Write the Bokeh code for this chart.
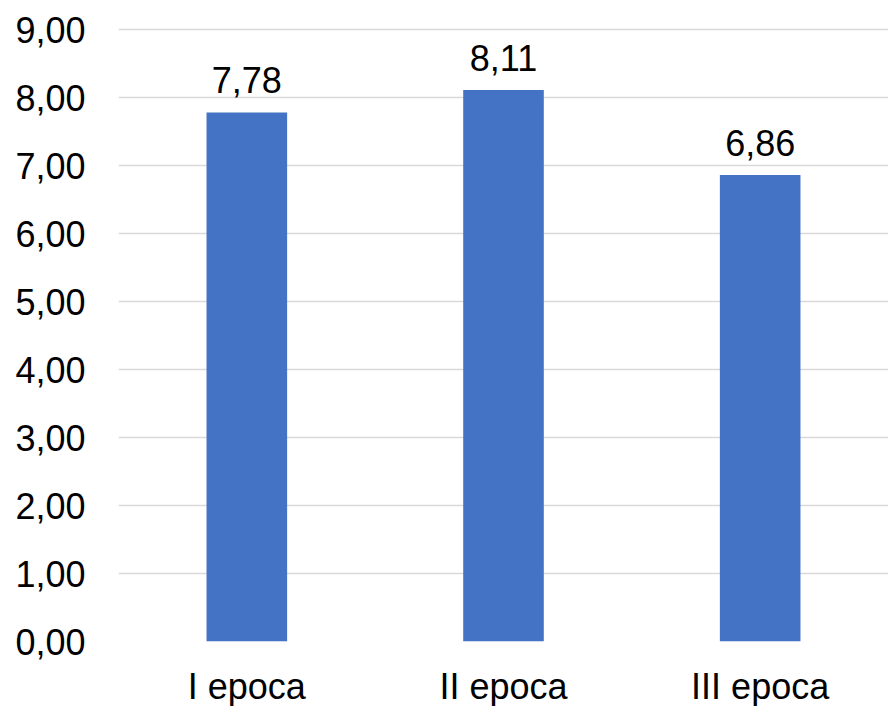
from bokeh.plotting import figure
from bokeh.models import ColumnDataSource, Range1d, FactorRange, SingleIntervalTicker, CustomJSTickFormatter
from bokeh.core.properties import value
from bokeh.embed import file_html
from bokeh.resources import INLINE

categories = ["I epoca", "II epoca", "III epoca"]
values = [7.78, 8.11, 6.86]
labels = [f"{v:.2f}".replace(".", ",") for v in values]

FONT = "Liberation Sans"

source = ColumnDataSource(data=dict(cat=categories, val=values, lab=labels))

p = figure(
    x_range=FactorRange(*categories),
    y_range=Range1d(0, 9.03),
    frame_width=770,
    frame_height=614,
    min_border_left=118,
    min_border_right=0,
    min_border_top=27,
    min_border_bottom=0,
    output_backend="svg",
    toolbar_location=None,
)
p.outline_line_color = None
p.background_fill_color = "white"
p.border_fill_color = "white"

p.vbar(x="cat", top="val", width=0.314, source=source, color="#4472C4", line_color=None)
p.text(x="cat", y="val", text="lab", source=source, text_align="center",
       text_baseline="alphabetic", y_offset=-32, text_font=value(FONT),
       text_font_size="36px", text_color="black")

p.yaxis.ticker = SingleIntervalTicker(interval=1)
p.yaxis.formatter = CustomJSTickFormatter(code="return tick.toFixed(2).replace('.', ',');")
for ax in (p.xaxis, p.yaxis):
    ax.axis_line_color = None
    ax.major_tick_line_color = None
    ax.minor_tick_line_color = None
    ax.major_tick_out = 0
    ax.major_tick_in = 0
    ax.major_label_text_font = FONT
    ax.major_label_text_font_size = "36px"
    ax.major_label_text_color = "black"
p.yaxis.major_label_standoff = 29
p.xaxis.major_label_standoff = 24

p.xgrid.grid_line_color = None
p.ygrid.grid_line_color = "#d9d9d9"
p.ygrid.grid_line_width = 1.5
p.ygrid.ticker = SingleIntervalTicker(interval=1)

open("out.html", "w").write(file_html(p, INLINE))
